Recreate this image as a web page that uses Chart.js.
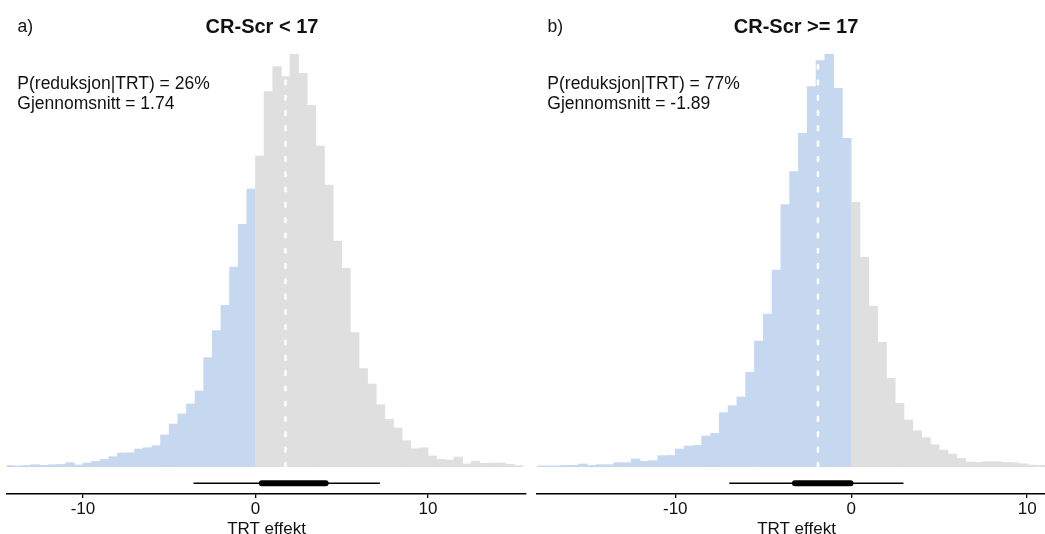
<!DOCTYPE html>
<html>
<head>
<meta charset="utf-8">
<script src="https://cdn.jsdelivr.net/npm/chart.js@4.4.1/dist/chart.umd.min.js"></script>
<style>
  html, body { margin:0; padding:0; background:#fff; }
  body { width:1045px; height:534px; overflow:hidden; position:relative; }
  canvas { position:absolute; top:0; }
  #panelA { left:0; }
  #panelB { left:530px; }
</style>
</head>
<body>
<canvas id="panelA" width="530" height="534"></canvas>
<canvas id="panelB" width="530" height="534"></canvas>
<script>
// histogram bins (centre of each 0.5-wide bin) and heights
const binsA = [-14.25,-13.75,-13.25,-12.75,-12.25,-11.75,-11.25,-10.75,-10.25,-9.75,-9.25,-8.75,-8.25,-7.75,-7.25,-6.75,-6.25,-5.75,-5.25,-4.75,-4.25,-3.75,-3.25,-2.75,-2.25,-1.75,-1.25,-0.75,-0.25,
  0.25,0.75,1.25,1.75,2.25,2.75,3.25,3.75,4.25,4.75,5.25,5.75,6.25,6.75,7.25,7.75,8.25,8.75,9.25,9.75,10.25,10.75,11.25,11.75,12.25,12.75,13.25,13.75,14.25,14.75,15.25];
const countsA = [1.3,0.7,1.3,2,1.3,2,2.3,4,1.7,3.7,5.3,7.3,10,13.7,14,17.7,19,21,31.7,42.7,52.7,62.7,75.7,109,136,161.3,199.7,242.3,277.7,
  310.7,375,400,390,412.3,393.3,361.3,320.7,281.7,225.7,198.3,134,98,82.7,62,47.3,38.7,26,18,19,10.7,7.3,6.7,9.7,2.7,5.3,3.3,3.7,3.7,2.3,1];

const binsB = [-17.75,-17.25,-16.75,-16.25,-15.75,-15.25,-14.75,-14.25,-13.75,-13.25,-12.75,-12.25,-11.75,-11.25,-10.75,-10.25,-9.75,-9.25,-8.75,-8.25,-7.75,-7.25,-6.75,-6.25,-5.75,-5.25,-4.75,-4.25,-3.75,-3.25,-2.75,-2.25,-1.75,-1.25,-0.75,-0.25,
  0.25,0.75,1.25,1.75,2.25,2.75,3.25,3.75,4.25,4.75,5.25,5.75,6.25,6.75,7.25,7.75,8.25,8.75,9.25,9.75,10.25,10.75];
const countsB = [0.7,0.7,0.7,1.3,1.3,2.7,1.3,2,2,4,4,7.7,5.3,6,11,11.3,17.7,20.7,21.3,30.7,33.3,54,61,69.7,94.3,125.7,152.7,196.7,262,295,333.3,380,406,412.3,378.3,328.3,
  264.3,209.3,160.7,124.3,88.3,63.3,46.7,36,29,22,16.7,12.7,8.3,4.7,4.3,5,5,4.3,4,3,1.7,1.3];

// summaries
const meanA = 1.74, meanB = -1.89;
const outerA = [-3.59, 7.21], innerA = [0.37, 4.07];
const outerB = [-6.93, 2.97], innerB = [-3.2, -0.04];
const xTicks = [-10, 0, 10];

const BLUE = '#c6d8f0', GREY = '#dfdfdf', INK = '#111';
const FONT = '"Liberation Sans", Arial, sans-serif';
const IV_Y = -16.6; // interval sits below the histogram

const textPlugin = {
  id: 'panelText',
  afterDraw(chart, args, o) {
    const c = chart.ctx;
    c.save();
    c.fillStyle = INK;
    c.textBaseline = 'middle';
    c.font = `17.5px ${FONT}`;
    c.textAlign = 'left';
    c.fillText(o.tag, 17.5, 27);
    o.lines.forEach((t, i) => c.fillText(t, 17.3, 84 + i * 20));
    c.font = `bold 20px ${FONT}`;
    c.textAlign = 'center';
    c.fillText(o.title, o.titleX, 27);
    c.restore();
  }
};

function heightAt(bins, counts, v) {
  const i = bins.findIndex(b => Math.abs(b - v) <= 0.25);
  return i < 0 ? 0 : counts[i];
}

function makePanel(id, bins, counts, mean, outer, inner, xmin, xmax, text) {
  const seg = (a, y) => [{x: a[0], y}, {x: a[1], y}];
  return new Chart(document.getElementById(id), {
    type: 'bar',
    data: {
      datasets: [
        { type: 'bar', data: bins.map((b, i) => ({x: b, y: counts[i]})),
          backgroundColor: c => bins[c.dataIndex] < 0 ? BLUE : GREY,
          borderWidth: 0, barPercentage: 1, categoryPercentage: 1, order: 3 },
        { type: 'line', data: [{x: mean, y: 0}, {x: mean, y: heightAt(bins, counts, mean)}],
          borderColor: '#fff', borderWidth: 2.6, borderDash: [3.5, 11.8], borderCapStyle: 'round',
          pointRadius: 0, order: 1 },
        { type: 'line', data: seg(outer, IV_Y), borderColor: '#000', borderWidth: 1.4,
          pointRadius: 0, order: 2 },
        { type: 'line', data: seg(inner, IV_Y), borderColor: '#000', borderWidth: 6,
          borderCapStyle: 'round', pointRadius: 0, order: 1 }
      ]
    },
    options: {
      responsive: false, animation: false,
      layout: { padding: { left: 7, right: 4, top: 40, bottom: -4 } },
      plugins: { legend: { display: false }, tooltip: { enabled: false }, panelText: text },
      scales: {
        x: {
          type: 'linear', min: xmin, max: xmax, offset: false,
          afterBuildTicks: s => { s.ticks = xTicks.map(v => ({value: v})); },
          ticks: { color: INK, font: { family: FONT, size: 17, lineHeight: 1 }, padding: 2.5, maxRotation: 0 },
          grid: { display: true, offset: false, drawOnChartArea: false, drawTicks: true, tickLength: 4, color: '#000', lineWidth: 1.3 },
          border: { display: true, color: '#000', width: 1.6 },
          title: { display: true, text: 'TRT effekt', color: INK,
                   font: { family: FONT, size: 17, lineHeight: 1 }, padding: { top: 1, bottom: 0 } }
        },
        y: { display: false, min: -27.3, max: 426.7 }
      }
    },
    plugins: [textPlugin]
  });
}

makePanel('panelA', binsA, countsA, meanA, outerA, innerA, -14.4, 15.68,
  { tag: 'a)', title: 'CR-Scr < 17', titleX: 262,
    lines: ['P(reduksjon|TRT) = 26%', 'Gjennomsnitt = 1.74'] });
makePanel('panelB', binsB, countsB, meanB, outerB, innerB, -17.86, 11.64,
  { tag: 'b)', title: 'CR-Scr >= 17', titleX: 266,
    lines: ['P(reduksjon|TRT) = 77%', 'Gjennomsnitt = -1.89'] });
</script>
</body>
</html>
